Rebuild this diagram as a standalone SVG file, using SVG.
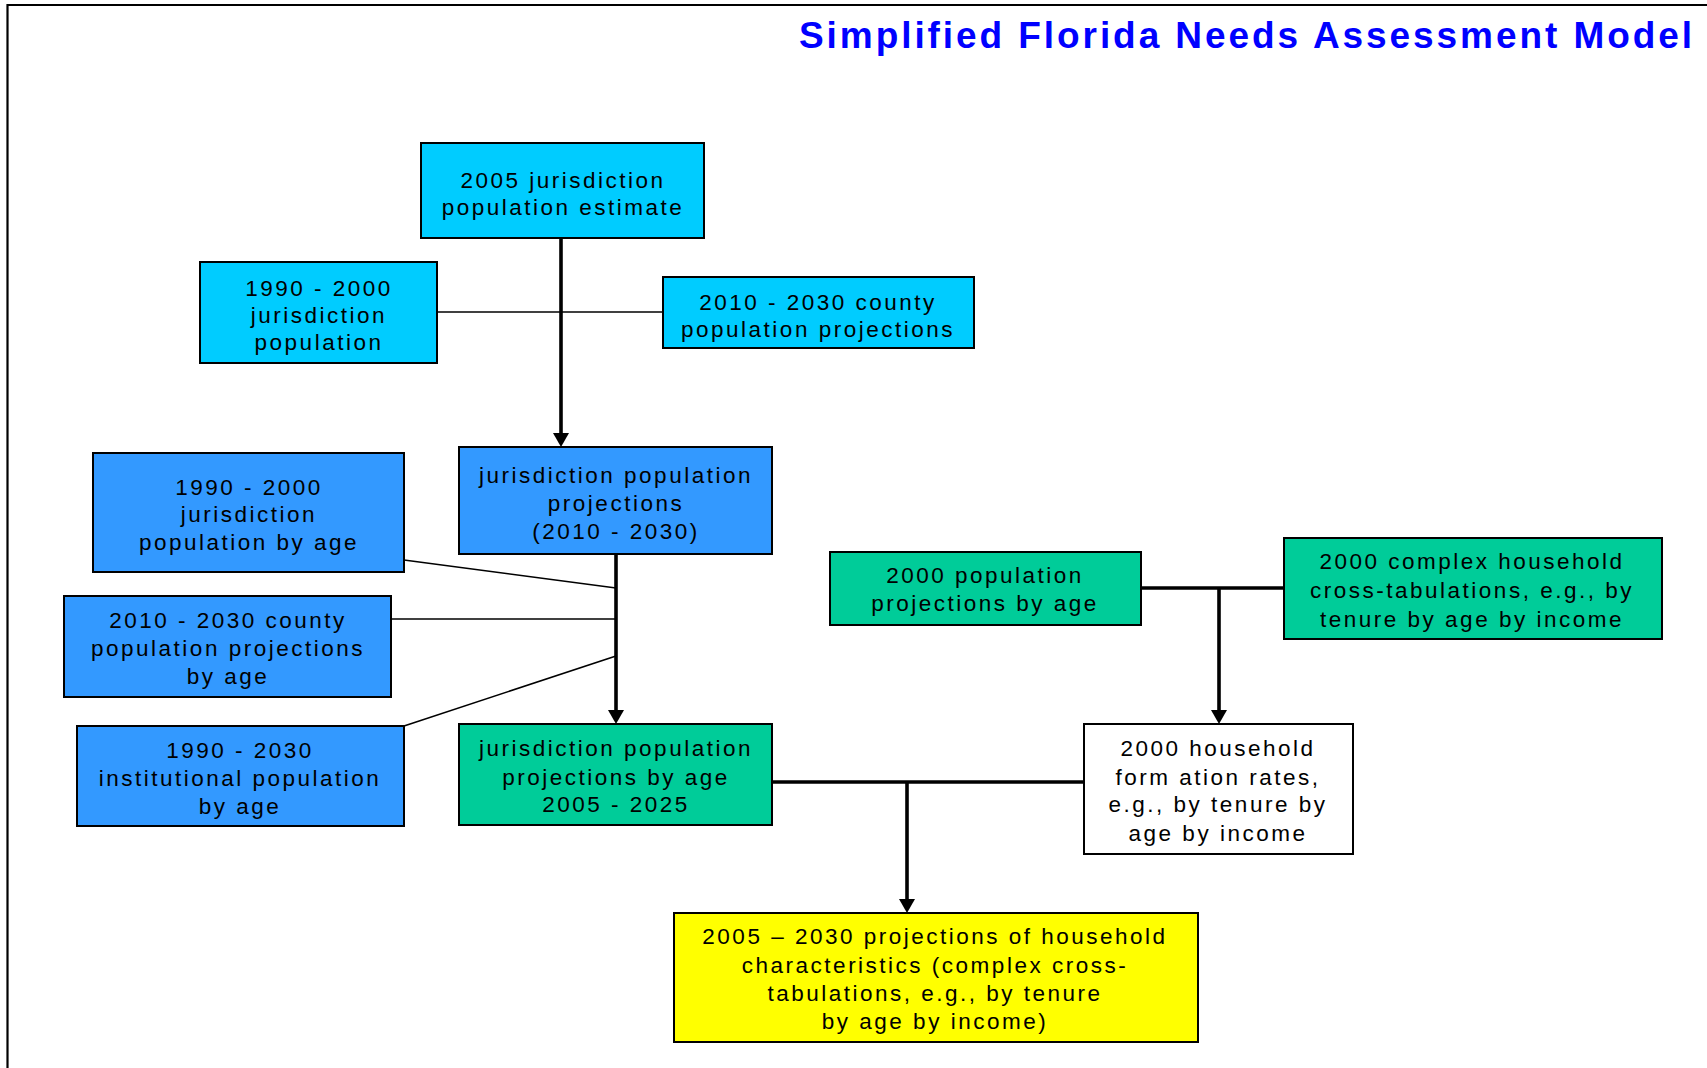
<svg xmlns="http://www.w3.org/2000/svg" width="1707" height="1068" viewBox="0 0 1707 1068">
<style>
.box{stroke:#000;stroke-width:2}
.cyan{fill:#00CCFF}.blue{fill:#3399FF}.teal{fill:#00CC99}.yel{fill:#FFFF00}.wht{fill:#FFFFFF}
.t{font-family:"Liberation Sans",Arial,sans-serif;font-size:22.5px;letter-spacing:2.5px;fill:#000;text-anchor:middle}
.thin{stroke:#000;stroke-width:1.6;fill:none}
.thick{stroke:#000;stroke-width:3.6;fill:none}
.arr{stroke:#000;stroke-width:3.6;fill:none;marker-end:url(#ah)}
</style>
<defs>
<marker id="ah" markerUnits="userSpaceOnUse" markerWidth="16" markerHeight="16" refX="3" refY="8" orient="auto" viewBox="0 0 16 16">
<path d="M0,0 L14,8 L0,16 z" fill="#000"/>
</marker>
</defs>
<rect width="1707" height="1068" fill="#fff"/>
<g id="frame">
<path d="M7.5,5 H1707 M7.5,4 V1068" stroke="#000" stroke-width="2.2" fill="none"/>
</g>
<text id="title" x="799" y="48" font-family="Liberation Sans, Arial, sans-serif" font-weight="bold" font-size="37" fill="#0000FF" textLength="893" lengthAdjust="spacing">Simplified Florida Needs Assessment Model</text>

<g id="connectors">
<path class="arr" d="M561,238 V436"/>
<path class="thin" d="M437,312 H663"/>
<path class="arr" d="M616,554 V713"/>
<path class="thin" d="M404,560 L616,588"/>
<path class="thin" d="M391,619 H616"/>
<path class="thin" d="M404,726 L616,656"/>
<path class="thick" d="M1141,588 H1284"/>
<path class="arr" d="M1219,588 V713"/>
<path class="thick" d="M772,782 H1084"/>
<path class="arr" d="M907,782 V902"/>
</g>

<g id="n2005est">
<rect class="box cyan" x="421" y="143" width="283" height="95"/>
<text class="t" x="563" y="188">2005 jurisdiction</text>
<text class="t" x="563" y="215">population estimate</text>
</g>
<g id="n1990pop">
<rect class="box cyan" x="200" y="262" width="237" height="101"/>
<text class="t" x="319" y="296">1990 - 2000</text>
<text class="t" x="319" y="323">jurisdiction</text>
<text class="t" x="319" y="350">population</text>
</g>
<g id="ncountyproj">
<rect class="box cyan" x="663" y="277" width="311" height="71"/>
<text class="t" x="818" y="310">2010 - 2030 county</text>
<text class="t" x="818" y="337">population projections</text>
</g>
<g id="njurproj">
<rect class="box blue" x="459" y="447" width="313" height="107"/>
<text class="t" x="616" y="483">jurisdiction population</text>
<text class="t" x="616" y="511">projections</text>
<text class="t" x="616" y="539">(2010 - 2030)</text>
</g>
<g id="n1990age">
<rect class="box blue" x="93" y="453" width="311" height="119"/>
<text class="t" x="249" y="495">1990 - 2000</text>
<text class="t" x="249" y="522">jurisdiction</text>
<text class="t" x="249" y="550">population by age</text>
</g>
<g id="ncountyage">
<rect class="box blue" x="64" y="596" width="327" height="101"/>
<text class="t" x="228" y="628">2010 - 2030 county</text>
<text class="t" x="228" y="656">population projections</text>
<text class="t" x="228" y="684">by age</text>
</g>
<g id="ninst">
<rect class="box blue" x="77" y="726" width="327" height="100"/>
<text class="t" x="240" y="758">1990 - 2030</text>
<text class="t" x="240" y="786">institutional population</text>
<text class="t" x="240" y="814">by age</text>
</g>
<g id="njurage">
<rect class="box teal" x="459" y="724" width="313" height="101"/>
<text class="t" x="616" y="756">jurisdiction population</text>
<text class="t" x="616" y="785">projections by age</text>
<text class="t" x="616" y="812">2005 - 2025</text>
</g>
<g id="n2000popage">
<rect class="box teal" x="830" y="552" width="311" height="73"/>
<text class="t" x="985" y="583">2000 population</text>
<text class="t" x="985" y="611">projections by age</text>
</g>
<g id="ncomplex">
<rect class="box teal" x="1284" y="538" width="378" height="101"/>
<text class="t" x="1472" y="569">2000 complex household</text>
<text class="t" x="1472" y="598">cross-tabulations, e.g., by</text>
<text class="t" x="1472" y="627">tenure by age by income</text>
</g>
<g id="nformation">
<rect class="box wht" x="1084" y="724" width="269" height="130"/>
<text class="t" x="1218" y="756">2000 household</text>
<text class="t" x="1218" y="785">form ation rates,</text>
<text class="t" x="1218" y="812">e.g., by tenure by</text>
<text class="t" x="1218" y="841">age by income</text>
</g>
<g id="nfinal">
<rect class="box yel" x="674" y="913" width="524" height="129"/>
<text class="t" x="935" y="944">2005 – 2030 projections of household</text>
<text class="t" x="935" y="973">characteristics (complex cross-</text>
<text class="t" x="935" y="1001">tabulations, e.g., by tenure</text>
<text class="t" x="935" y="1029">by age by income)</text>
</g>
</svg>
